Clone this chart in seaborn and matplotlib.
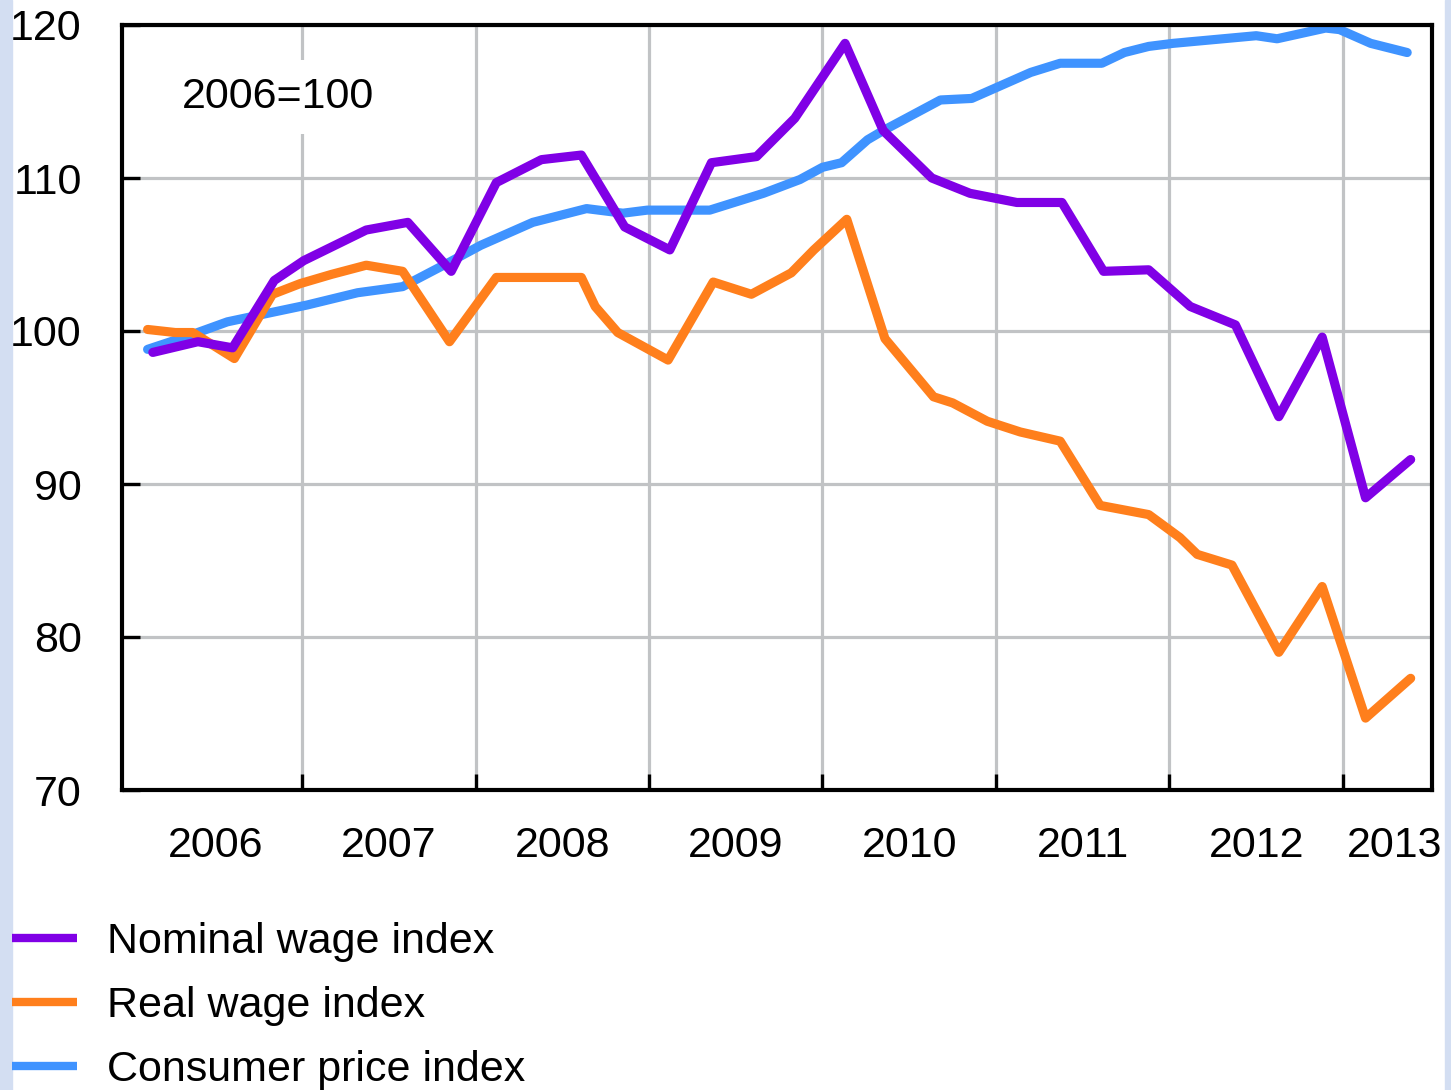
import pandas as pd
import matplotlib
matplotlib.use("Agg")
import matplotlib.pyplot as plt
from matplotlib.lines import Line2D
from matplotlib.patches import Rectangle
import seaborn as sns

# values (decimal year, index 2006=100)
nominal_x = [2006.14, 2006.40, 2006.60, 2006.84, 2007.01, 2007.37, 2007.61, 2007.86,
             2008.12, 2008.38, 2008.61, 2008.86, 2009.12, 2009.36, 2009.62, 2009.84,
             2010.13, 2010.35, 2010.63, 2010.85, 2011.12, 2011.38, 2011.62, 2011.88,
             2012.12, 2012.38, 2012.63, 2012.88, 2013.13, 2013.39]
nominal_y = [98.6, 99.3, 98.9, 103.3, 104.6, 106.6, 107.1, 103.9,
             109.7, 111.2, 111.5, 106.8, 105.3, 111.0, 111.4, 113.9,
             118.8, 113.1, 110.0, 109.0, 108.4, 108.4, 103.9, 104.0,
             101.6, 100.4, 94.4, 99.6, 89.1, 91.6]

real_x = [2006.11, 2006.27, 2006.37, 2006.61, 2006.83, 2006.99, 2007.17, 2007.37,
          2007.58, 2007.85, 2008.12, 2008.38, 2008.61, 2008.69, 2008.82, 2009.11,
          2009.37, 2009.59, 2009.82, 2009.95, 2010.14, 2010.36, 2010.64, 2010.75,
          2010.95, 2011.14, 2011.37, 2011.60, 2011.88, 2012.06, 2012.16, 2012.36,
          2012.63, 2012.88, 2013.13, 2013.39]
real_y = [100.1, 99.9, 99.9, 98.2, 102.4, 103.1, 103.7, 104.3,
          103.9, 99.3, 103.5, 103.5, 103.5, 101.6, 99.9, 98.1,
          103.2, 102.4, 103.8, 105.3, 107.3, 99.5, 95.7, 95.3,
          94.1, 93.4, 92.8, 88.6, 88.0, 86.5, 85.4, 84.7,
          79.0, 83.3, 74.7, 77.3]

cpi_x = [2006.11, 2006.35, 2006.57, 2006.82, 2007.03, 2007.32, 2007.58, 2007.85,
         2008.03, 2008.33, 2008.64, 2008.85, 2008.99, 2009.35, 2009.66, 2009.87,
         2010.00, 2010.11, 2010.26, 2010.35, 2010.68, 2010.86, 2011.20, 2011.37,
         2011.61, 2011.74, 2011.88, 2012.02, 2012.50, 2012.62, 2012.90, 2012.98,
         2013.16, 2013.37]
cpi_y = [98.8, 99.7, 100.6, 101.2, 101.7, 102.5, 102.9, 104.5,
         105.6, 107.1, 108.0, 107.7, 107.9, 107.9, 109.0, 109.9,
         110.7, 111.0, 112.5, 113.1, 115.1, 115.2, 116.9, 117.5,
         117.5, 118.2, 118.6, 118.8, 119.3, 119.1, 119.8, 119.7,
         118.8, 118.2]

series_names = ["Nominal wage index", "Real wage index", "Consumer price index"]
colors = ["#8000e6", "#ff7f1c", "#3f93ff"]
years = [2006, 2007, 2008, 2009, 2010, 2011, 2012, 2013]
year_label_pos = [2006.5, 2007.5, 2008.5, 2009.5, 2010.5, 2011.5, 2012.5, 2013.3]

df = pd.concat([
    pd.DataFrame({"year": cpi_x, "value": cpi_y, "series": series_names[2]}),
    pd.DataFrame({"year": real_x, "value": real_y, "series": series_names[1]}),
    pd.DataFrame({"year": nominal_x, "value": nominal_y, "series": series_names[0]}),
])

sns.set_style("white")
plt.rcParams["font.family"] = ["Liberation Sans", "DejaVu Sans"]
plt.rcParams["text.color"] = "black"
plt.rcParams["xtick.color"] = "black"
plt.rcParams["ytick.color"] = "black"

W, H = 1451, 1090
fig = plt.figure(figsize=(W / 100, H / 100), dpi=100)
fig.patches.append(Rectangle((0, 0), 12 / W, 1, transform=fig.transFigure,
                             color="#d3def2", zorder=-5))
fig.patches.append(Rectangle((1445 / W, 0), 6 / W, 1, transform=fig.transFigure,
                             color="#d3def2", zorder=-5))

ax = fig.add_axes([122 / W, 1 - 790 / H, (1432 - 122) / W, (790 - 25) / H])

sns.lineplot(data=df, x="year", y="value", hue="series",
             palette=dict(zip(series_names, colors)),
             hue_order=series_names[::-1], sort=False, estimator=None,
             linewidth=6.6, legend=False, ax=ax,
             solid_capstyle="round", solid_joinstyle="round", zorder=3)

ax.set_xlim(2005.9625, 2013.513)
ax.set_ylim(70, 120)
ax.set_xlabel("")
ax.set_ylabel("")

ax.set_yticks([70, 80, 90, 100, 110, 120])
ax.set_xticks(years[1:])
ax.set_xticklabels([])
ax.set_xticks(year_label_pos, minor=True)
ax.set_xticklabels([str(y) for y in years], minor=True)

ax.tick_params(axis="y", left=True, direction="in", length=13, width=2.4,
               labelsize=31, pad=29, colors="black")
ax.tick_params(axis="x", which="major", bottom=True, direction="in",
               length=11.5, width=2.4, colors="black")
ax.tick_params(axis="x", which="minor", bottom=True, length=0, labelsize=31,
               pad=26, colors="black")

for s in ax.spines.values():
    s.set_linewidth(3)
    s.set_color("black")
    s.set_zorder(4)

ax.grid(True, axis="both", which="major", color="#c1c3c5", linewidth=2.3, zorder=0)
ax.set_axisbelow(True)

ax.text(2006.31, 115.3, "2006=100", fontsize=31, ha="left", va="center",
        bbox=dict(facecolor="white", edgecolor="none", pad=12), zorder=2)

handles = [Line2D([0], [0], color=c, linewidth=6, solid_capstyle="butt")
           for c in colors]
fig.legend(handles, series_names, loc="upper left",
           bbox_to_anchor=(12 / W, 1 - 922 / H), frameon=False, fontsize=31,
           handlelength=1.52, handletextpad=0.68, labelspacing=0.56,
           borderaxespad=0, borderpad=0)

fig.savefig("out.png", dpi=100, facecolor="white")
